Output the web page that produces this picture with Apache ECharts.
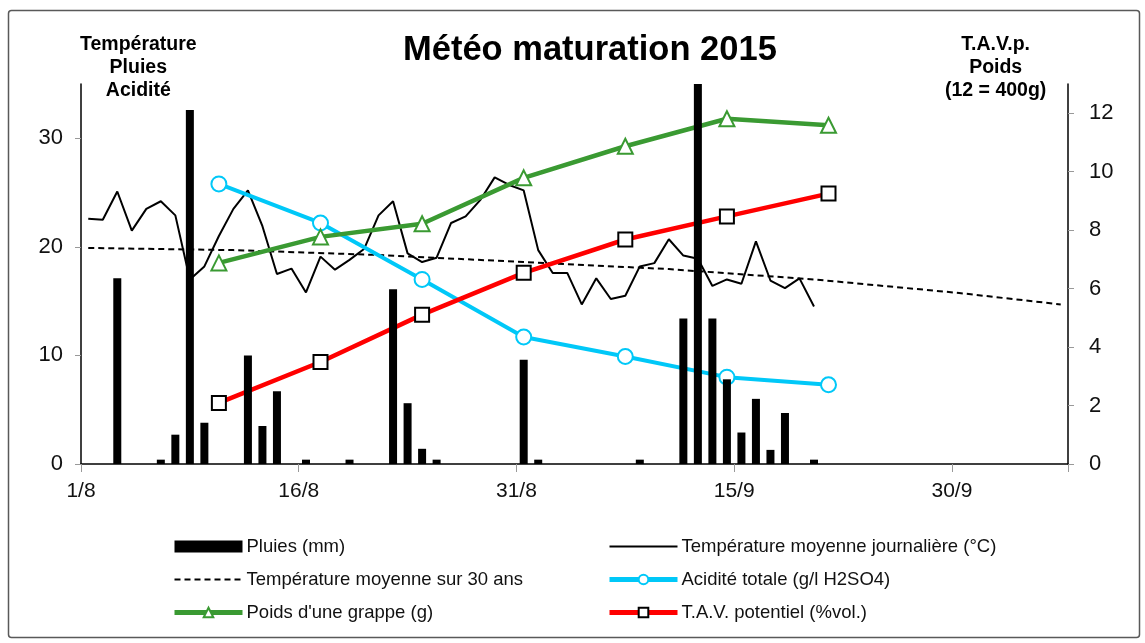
<!DOCTYPE html>
<html>
<head>
<meta charset="utf-8">
<script src="https://cdn.jsdelivr.net/npm/echarts@6/dist/echarts.min.js"></script>
<style>
  html, body { margin: 0; padding: 0; background: #fff; }
  #main { width: 1145px; height: 643px; }
</style>
</head>
<body>
<div id="main"></div>
<script>
// x = jour depuis le 1/8 (0 = 1/8)
const xTickLabels = ['1/8', '16/8', '31/8', '15/9', '30/9'];

// pluies (mm) par jour
const rainDays = [2, 5, 6, 7, 8, 11, 12, 13, 15, 18, 21, 22, 23, 24, 30, 31, 38, 41, 42, 43, 44, 45, 46, 47, 48, 50];
const rainMm = [17.1, 0.4, 2.7, 32.6, 3.8, 10.0, 3.5, 6.7, 0.4, 0.4, 16.1, 5.6, 1.4, 0.4, 9.6, 0.4, 0.4, 13.4, 40, 13.4, 7.8, 2.9, 6.0, 1.3, 4.7, 0.4];

// température moyenne journalière, du 1/8 au 20/9
const dailyTemp = [22.6, 22.5, 25.1, 21.5, 23.5, 24.2, 22.9, 17.0, 18.2, 21.0,
  23.5, 25.2, 21.9, 17.5, 18.0, 15.8, 19.1, 17.9, 18.8, 19.8,
  22.9, 24.2, 19.4, 18.6, 19.0, 22.2, 22.8, 24.3, 26.4, 25.7,
  25.2, 19.7, 17.6, 17.6, 14.7, 17.1, 15.2, 15.5, 18.2, 18.5,
  20.7, 19.2, 18.9, 16.4, 17.0, 16.6, 20.5, 16.9, 16.2, 17.1, 14.5];

// moyenne sur 30 ans
const normalDays = [0, 10, 20, 30, 40, 50, 60, 67];
const normalTemp = [19.9, 19.7, 19.25, 18.6, 17.95, 17.0, 15.75, 14.7];

// prélèvements hebdomadaires
const sampleDays = [9, 16, 23, 30, 37, 44, 51];
const acidity = [25.8, 22.2, 17.0, 11.7, 9.9, 8.0, 7.3];
const bunchWeight = [6.88, 7.77, 8.22, 9.79, 10.87, 11.81, 11.59];
const tav = [2.09, 3.49, 5.11, 6.54, 7.68, 8.47, 9.25];

function pts(days, vals) {
  return days.map(function (d, i) { return [d + 0.5, vals[i]]; });
}

var font = 'Liberation Sans, Arial, sans-serif';
var chart = echarts.init(document.getElementById('main'));

var legendText = { fontSize: 18.5, color: '#111', fontFamily: font, padding: [0, 0, 0, -1] };

chart.setOption({
  animation: false,
  textStyle: { fontFamily: font },
  title: {
    text: 'Météo maturation 2015',
    left: 398,
    top: 28,
    textStyle: { fontSize: 34.5, fontWeight: 'bold', color: '#000', fontFamily: font }
  },
  graphic: [
    {
      type: 'rect',
      shape: { x: 8.5, y: 10.5, width: 1131, height: 627, r: 3 },
      style: { fill: 'none', stroke: '#595959', lineWidth: 1.5 },
      silent: true
    },
    {
      type: 'text', left: 80, top: 33,
      style: { text: 'Température\nPluies\nAcidité', font: 'bold 19.5px ' + font, fill: '#000', textAlign: 'center', lineHeight: 23, x: 60 }
    },
    {
      type: 'text', left: 945, top: 33,
      style: { text: 'T.A.V.p.\nPoids\n(12 = 400g)', font: 'bold 19.5px ' + font, fill: '#000', textAlign: 'center', lineHeight: 23, x: 50 }
    }
  ],
  legend: [
    {
      orient: 'vertical', left: 167, top: 532, itemWidth: 68, itemHeight: 12, itemGap: 14,
      textStyle: legendText,
      data: [
        { name: 'Pluies (mm)', icon: 'rect' },
        { name: 'Température moyenne sur 30 ans', itemStyle: { opacity: 0 }, lineStyle: { width: 2 } },
        { name: "Poids d'une grappe (g)", lineStyle: { width: 5 } }
      ]
    },
    {
      orient: 'vertical', left: 602, top: 532, itemWidth: 68, itemHeight: 12, itemGap: 14,
      textStyle: legendText,
      data: [
        { name: 'Température moyenne journalière (°C)', itemStyle: { opacity: 0 }, lineStyle: { width: 2 } },
        { name: 'Acidité totale (g/l H2SO4)', lineStyle: { width: 5 } },
        { name: 'T.A.V. potentiel (%vol.)', lineStyle: { width: 5 } }
      ]
    }
  ],
  grid: { left: 81, right: 77, top: 84, bottom: 179, containLabel: false },
  xAxis: {
    type: 'value', min: 0, max: 68, interval: 15,
    axisLine: { lineStyle: { color: '#000', width: 1.5 } },
    axisTick: { show: true, length: 8, inside: false, lineStyle: { color: '#999' } },
    splitLine: { show: false },
    axisLabel: {
      fontSize: 21, color: '#111', margin: 17, fontFamily: font,
      formatter: function (v) { return xTickLabels[Math.round(v / 15)] || ''; }
    }
  },
  yAxis: [
    {
      type: 'value', min: 0, max: 35, interval: 10, position: 'left',
      axisLine: { show: true, lineStyle: { color: '#000', width: 1.5 } },
      axisTick: { show: true, length: 6, lineStyle: { color: '#999' } },
      splitLine: { show: false },
      axisLabel: { fontSize: 22, color: '#111', margin: 18, fontFamily: font, showMaxLabel: false }
    },
    {
      type: 'value', min: 0, max: 13, interval: 2, position: 'right',
      axisLine: { show: true, lineStyle: { color: '#000', width: 1.5 } },
      axisTick: { show: true, length: 6, lineStyle: { color: '#999' } },
      splitLine: { show: false },
      axisLabel: { fontSize: 22, color: '#111', margin: 21, fontFamily: font, showMaxLabel: false }
    }
  ],
  series: [
    {
      name: 'Température moyenne sur 30 ans', type: 'line', yAxisIndex: 0,
      symbol: 'none', z: 2,
      lineStyle: { color: '#000', width: 2, type: [6, 4] },
      itemStyle: { color: '#000' },
      data: pts(normalDays, normalTemp)
    },
    {
      name: 'Température moyenne journalière (°C)', type: 'line', yAxisIndex: 0,
      symbol: 'none', z: 3,
      lineStyle: { color: '#000', width: 2 },
      itemStyle: { color: '#000' },
      data: dailyTemp.map(function (t, i) { return [i + 0.5, t]; })
    },
    {
      name: 'Acidité totale (g/l H2SO4)', type: 'line', yAxisIndex: 0,
      symbol: 'circle', symbolSize: 15, z: 4,
      lineStyle: { color: '#00c8f8', width: 4 },
      itemStyle: { color: '#fff', borderColor: '#00c8f8', borderWidth: 2 },
      data: pts(sampleDays, acidity)
    },
    {
      name: "Poids d'une grappe (g)", type: 'line', yAxisIndex: 1,
      symbol: 'triangle', symbolSize: 15, z: 4,
      lineStyle: { color: '#3a9a32', width: 4.5 },
      itemStyle: { color: '#fff', borderColor: '#3a9a32', borderWidth: 2 },
      data: pts(sampleDays, bunchWeight)
    },
    {
      name: 'T.A.V. potentiel (%vol.)', type: 'line', yAxisIndex: 1,
      symbol: 'rect', symbolSize: 14, z: 4,
      lineStyle: { color: '#ff0000', width: 4.5 },
      itemStyle: { color: '#fff', borderColor: '#000', borderWidth: 2 },
      data: pts(sampleDays, tav)
    },
    {
      name: 'Pluies (mm)', type: 'bar', yAxisIndex: 0, z: 5,
      barWidth: 8, clip: true,
      itemStyle: { color: '#000' },
      data: pts(rainDays, rainMm)
    }
  ]
});
</script>
</body>
</html>
